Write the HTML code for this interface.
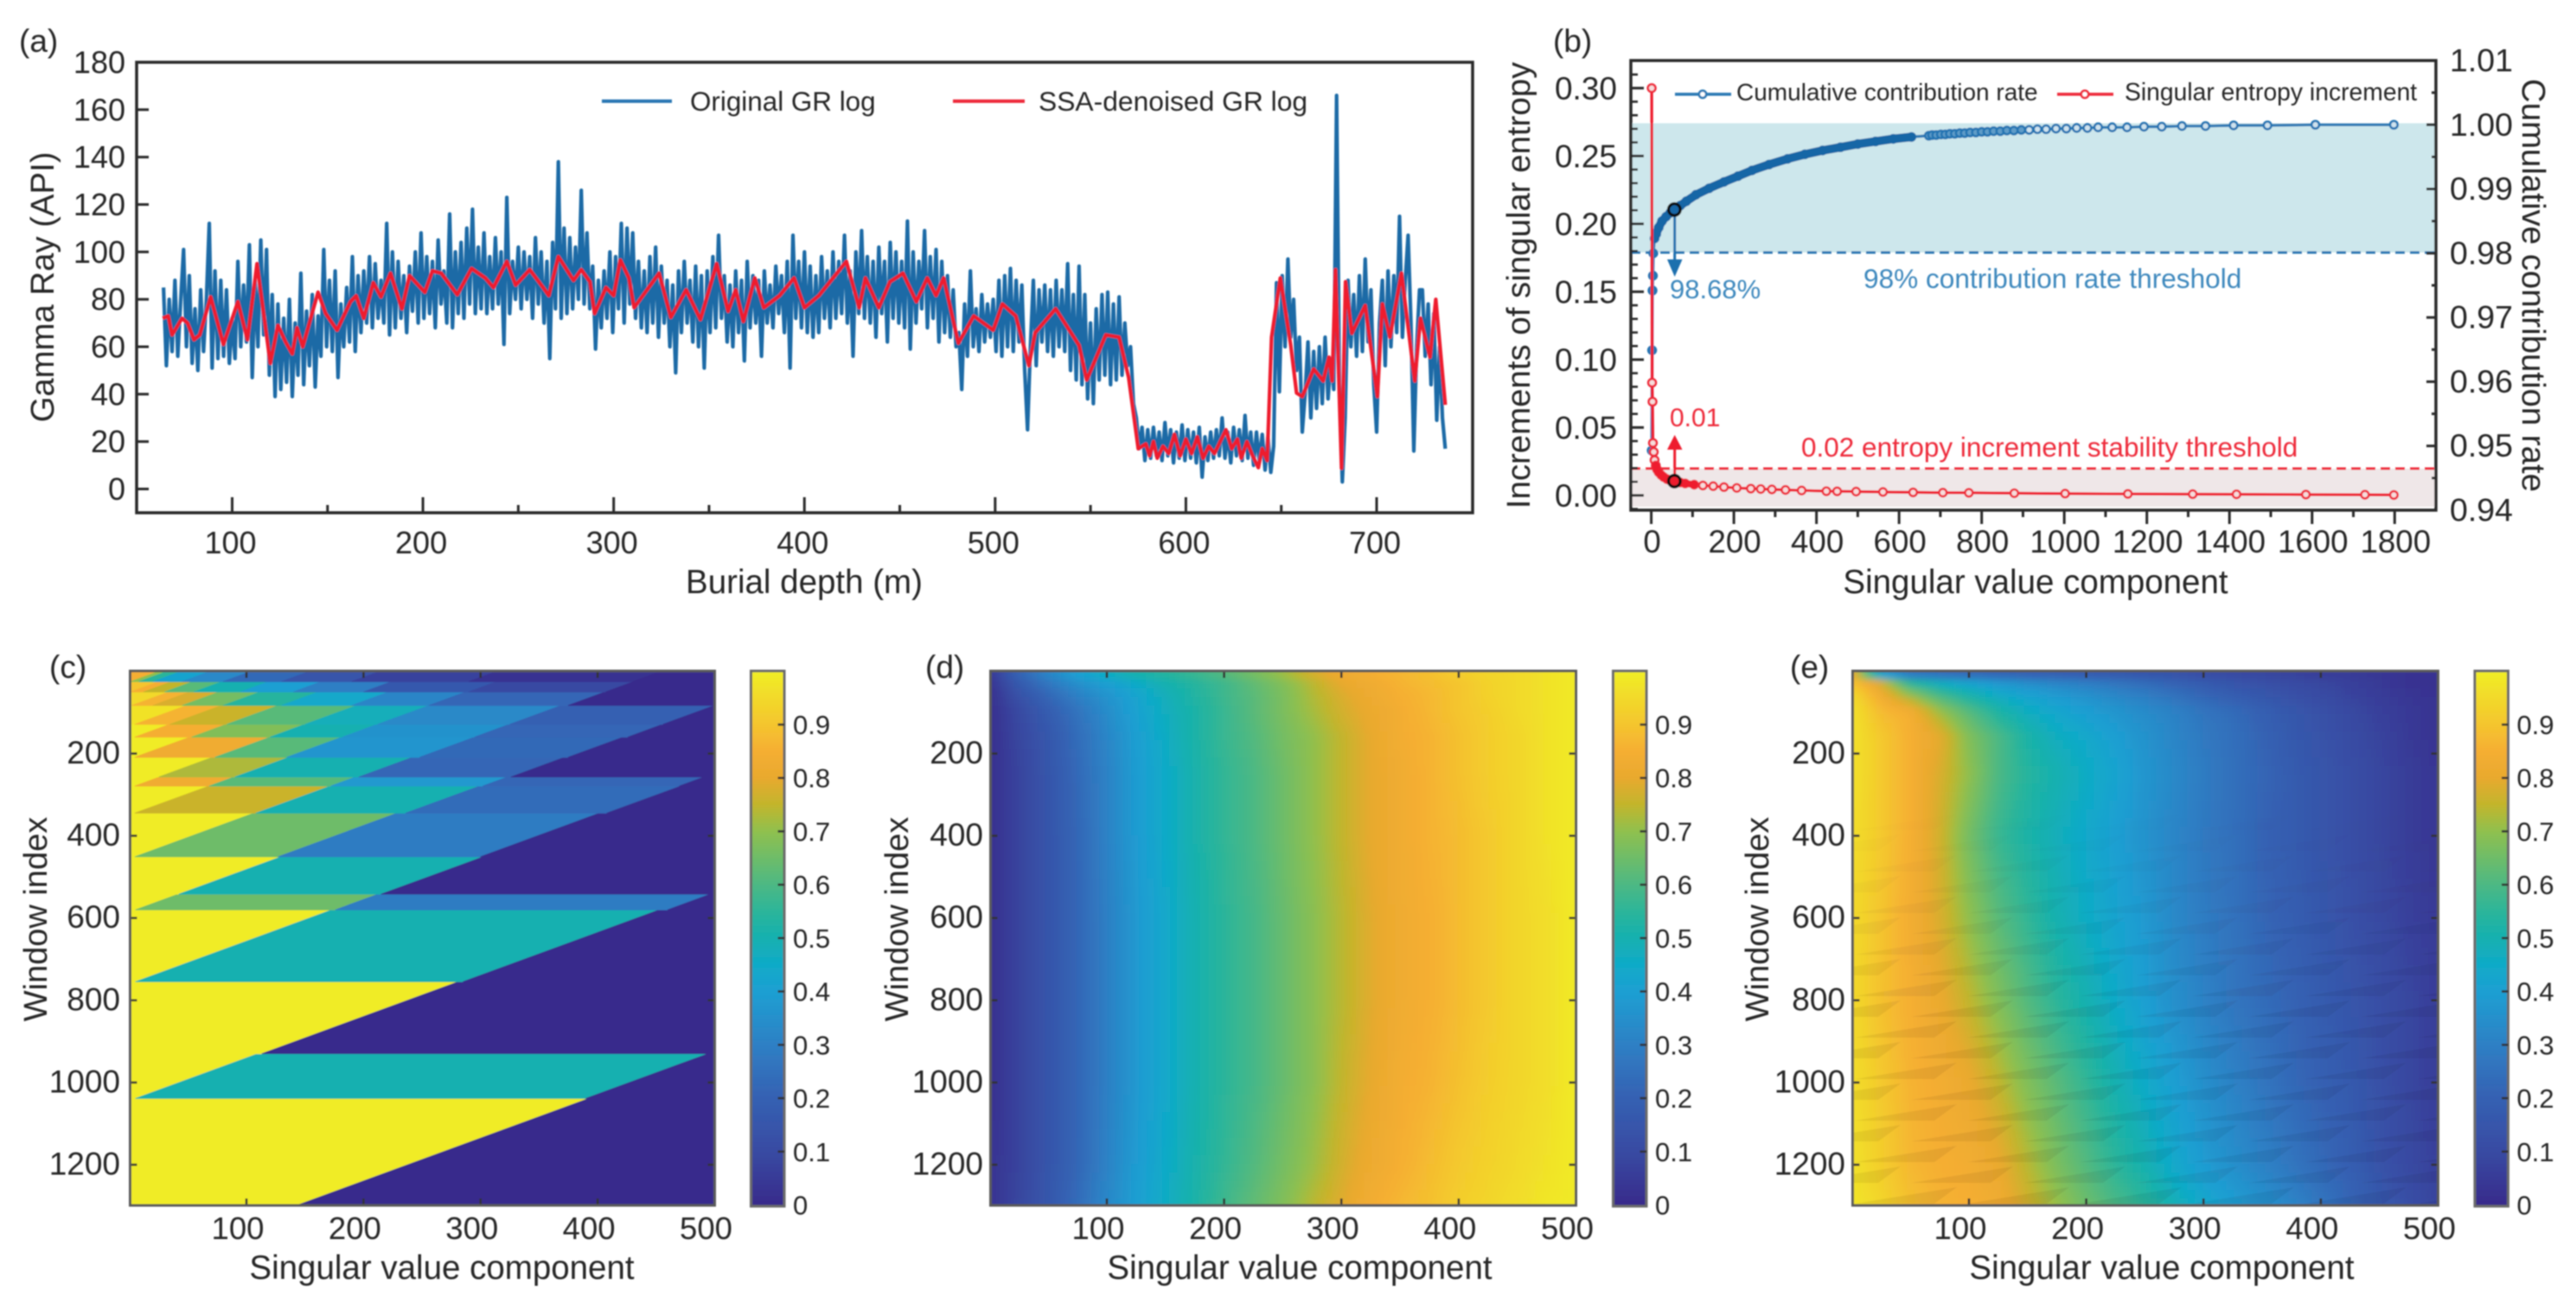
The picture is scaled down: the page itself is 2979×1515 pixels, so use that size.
<!DOCTYPE html>
<html lang="en">
<head>
<meta charset="utf-8">
<title>SSA denoising figure</title>
<style>
html,body{margin:0;padding:0;background:#fff}
svg{display:block}
text{font-family:"Liberation Sans",sans-serif;fill:#262626}
</style>
</head>
<body>
<svg id="fig" xmlns="http://www.w3.org/2000/svg" width="2979" height="1515" viewBox="0 0 2979 1515">
<defs>
<filter id="soft" filterUnits="userSpaceOnUse" x="0" y="0" width="2979" height="1515"><feGaussianBlur stdDeviation="0.9"/></filter>
<filter id="heatBlur" filterUnits="userSpaceOnUse" x="0" y="700" width="2979" height="815"><feGaussianBlur stdDeviation="5 4"/></filter>
<clipPath id="clipC"><rect x="150.5" y="776" width="676" height="618"/></clipPath>
<clipPath id="clipD"><rect x="1145.5" y="776" width="677" height="618"/></clipPath>
<clipPath id="clipE"><rect x="2142.5" y="776" width="677" height="618"/></clipPath>
<pattern id="saw" width="130" height="48" patternUnits="userSpaceOnUse">
<rect x="0" y="0" width="130" height="48" fill="#fff"/>
<polygon points="0,24 118,5 92,24" fill="#f0eef0"/>
<polygon points="65,48 183,29 157,48" fill="#f0eef0"/>
<polygon points="-65,48 53,29 27,48" fill="#f0eef0"/>
</pattern>
<linearGradient id="sawFade" gradientUnits="userSpaceOnUse" x1="0" y1="930" x2="0" y2="1170"><stop offset="0" stop-color="#fff" stop-opacity="0"/><stop offset="1" stop-color="#fff" stop-opacity="1"/></linearGradient>
<mask id="sawMask" maskUnits="userSpaceOnUse" x="2100" y="900" width="760" height="520"><rect x="2100" y="900" width="760" height="520" fill="url(#sawFade)"/></mask>
<linearGradient id="cbGrad" x1="0" y1="1" x2="0" y2="0"></linearGradient>
</defs>
<rect x="0" y="0" width="2979" height="1515" fill="#fff"/>
<g id="root" filter="url(#soft)">

<g id="panelA">
<text x="22" y="60" font-size="37">(a)</text>
<g id="aMarks"></g>
<g id="aAxes"></g>
<rect x="158" y="72" width="1545" height="521" fill="none" stroke="#2b2b2b" stroke-width="3.5"/>
<line x1="696" y1="117" x2="777" y2="117" stroke="#2a78b4" stroke-width="4"/>
<text x="798" y="128" font-size="31.4">Original GR log</text>
<line x1="1102" y1="117" x2="1185" y2="117" stroke="#ee2a3a" stroke-width="4"/>
<text x="1201" y="128" font-size="31.8">SSA-denoised GR log</text>
<text x="930" y="686" font-size="38.5" text-anchor="middle">Burial depth (m)</text>
<text transform="translate(62 332) rotate(-90)" font-size="38.3" text-anchor="middle">Gamma Ray (API)</text>
</g>

<g id="panelB">
<text x="1796" y="60" font-size="37">(b)</text>
<rect x="1886" y="142.5" width="931" height="149.5" fill="#cde7ec"/>
<rect x="1886" y="542" width="931" height="44" fill="#efe7e8"/>
<line x1="1886" y1="292" x2="2817" y2="292" stroke="#2a78b4" stroke-width="3" stroke-dasharray="11 6"/>
<line x1="1886" y1="542" x2="2817" y2="542" stroke="#ee2a3a" stroke-width="3" stroke-dasharray="11 6"/>
<g id="bMarks"></g>
<g><line x1="1936.7" y1="242" x2="1936.7" y2="302" stroke="#1f6fae" stroke-width="3"/><polygon points="1928,300 1945.5,300 1936.7,320" fill="#1f6fae"/></g>
<g><line x1="1936.7" y1="556" x2="1936.7" y2="518" stroke="#ee1c2e" stroke-width="3"/><polygon points="1928,520 1945.5,520 1936.7,503" fill="#ee1c2e"/></g>
<g id="bRings"></g>
<g id="bAxes"></g>
<rect x="1886" y="70" width="931" height="520" fill="none" stroke="#2b2b2b" stroke-width="3.5"/>
<line x1="1937" y1="109" x2="2002" y2="109" stroke="#2a78b4" stroke-width="3.5"/>
<circle cx="1969" cy="109" r="4.2" fill="#fff" stroke="#2a78b4" stroke-width="2.6"/>
<text x="2008" y="116" font-size="28">Cumulative contribution rate</text>
<line x1="2379" y1="109" x2="2444" y2="109" stroke="#ee2a3a" stroke-width="3.5"/>
<circle cx="2411" cy="109" r="4.2" fill="#fff" stroke="#ee2a3a" stroke-width="2.6"/>
<text x="2457" y="116" font-size="28.3">Singular entropy increment</text>
<text x="1931" y="345" font-size="31" style="fill:#3d88bd">98.68%</text>
<text x="2155" y="333" font-size="31.6" style="fill:#3d88bd">98% contribution rate threshold</text>
<text x="1931" y="493" font-size="30" style="fill:#ee2a3a">0.01</text>
<text x="2083" y="528" font-size="31.5" style="fill:#ee2a3a">0.02 entropy increment stability threshold</text>
<text x="2354" y="686" font-size="38.5" text-anchor="middle">Singular value component</text>
<text transform="translate(1769 330) rotate(-90)" font-size="38.4" text-anchor="middle">Increments of singular entropy</text>
<text transform="translate(2917 330) rotate(90)" font-size="38.4" text-anchor="middle">Cumulative contribution rate</text>
</g>

<g id="panelC">
<text x="57" y="784" font-size="37">(c)</text>
<g clip-path="url(#clipC)"><g id="cCells"></g></g>
<g id="cAxes"></g>
<text x="511" y="1479" font-size="38.5" text-anchor="middle">Singular value component</text>
<text transform="translate(54 1063) rotate(-90)" font-size="38" text-anchor="middle">Window index</text>
</g>

<g id="panelD">
<text x="1070" y="784" font-size="37">(d)</text>
<g clip-path="url(#clipD)"><g id="dCells" filter="url(#heatBlur)"></g></g>
<g id="dAxes"></g>
<text x="1503" y="1479" font-size="38.5" text-anchor="middle">Singular value component</text>
<text transform="translate(1050 1063) rotate(-90)" font-size="38" text-anchor="middle">Window index</text>
</g>

<g id="panelE">
<text x="2070" y="784" font-size="37">(e)</text>
<g clip-path="url(#clipE)"><g id="eCells" filter="url(#heatBlur)"></g>
<rect x="2142" y="930" width="678" height="464" fill="url(#saw)" mask="url(#sawMask)" style="mix-blend-mode:multiply"/></g>
<g id="eAxes"></g>
<text x="2500" y="1479" font-size="38.5" text-anchor="middle">Singular value component</text>
<text transform="translate(2045 1063) rotate(-90)" font-size="38" text-anchor="middle">Window index</text>
</g>
</g>
</svg>

<script>
// ---------- Panel (a) data ----------
const aBlueStartDepth = 64;
const aBlueDepthStep = 1.5;
const aBlueValues = [
85,52,80,58,88,56,79,101,60,90,53,76,50,84,58,80,112,51,92,55,
88,56,84,53,72,55,96,60,86,62,103,47,88,60,105,65,101,48,82,39,
78,42,72,45,80,39,70,48,91,44,75,52,82,43,73,56,101,60,88,58,
92,47,78,60,85,62,98,58,90,66,92,70,98,68,95,72,88,70,112,65,
100,68,96,72,90,66,94,75,100,70,108,72,98,74,96,68,105,78,92,70,
116,68,100,74,104,72,110,78,118,74,102,76,108,74,98,76,106,78,100,61,
123,74,96,80,102,76,100,80,98,72,106,78,100,70,96,55,104,76,138,72,
110,74,106,76,102,80,126,78,108,76,94,59,88,68,92,72,100,66,98,76,
112,70,110,78,108,72,96,68,92,66,98,70,102,64,94,70,88,60,86,49,
92,66,96,70,88,62,94,60,90,51,92,66,98,68,107,72,90,62,86,60,
92,66,88,54,96,68,90,70,88,56,92,70,86,68,94,74,90,66,96,51,
107,72,96,68,100,66,94,64,90,66,98,72,92,68,100,72,96,74,107,70,
92,56,100,74,109,72,98,70,96,64,102,74,96,62,104,72,100,70,96,68,
113,59,100,70,96,76,109,68,98,72,101,62,96,66,90,64,84,60,66,42,
78,56,92,60,76,58,82,62,78,64,80,58,88,56,90,60,93,58,88,62,
86,50,25,60,88,52,84,62,86,58,84,56,88,60,84,58,95,50,82,46,
94,44,82,38,70,36,76,46,82,48,83,44,78,46,81,48,70,52,60,36,
30,17,26,12,25,13,26,14,24,12,28,14,25,11,24,13,27,12,25,13,
24,11,26,5,22,12,24,13,25,14,30,13,24,11,26,14,25,12,31,13,
24,10,24,12,23,8,22,7,18,87,41,90,60,97,64,80,50,64,24,40,
62,30,58,34,60,36,64,38,55,42,166,44,3,30,88,60,82,56,90,58,
97,62,84,44,24,70,88,52,92,60,90,66,115,64,88,107,70,16,60,84,
84,56,78,44,74,29,60,30,17];
const aRedDepths = [63.6,66.5,68.5,73.7,76.6,80,83,88.7,95.4,103,108,113,120,124,128,131.5,134,137,145,149,155,162,165,169,174,178,183,189,193,201,205,209.6,218,225.5,232.7,237,244,248.6,256,263,266,271,279,283,287.6,290,296,300,303.5,308,310.7,323.8,330,338,345.5,354,360,364,368,374,378.7,387,394.6,400,407.6,422,428.7,432,439,444.8,451.7,458.7,464.4,469,473,480.7,488.8,499,503.8,510.8,517.7,521,531.7,544,548,558,565,570,575,579,581,583,585,588,591,594,597,600,603,606,609,612,615,618,621,624,627,629,632,635,638,640,642.6,644.9,649.5,655,658,661,667,672,675,676.7,678.4,681.6,683.7,687,694,700.4,703,707,713,720,723,728,731,736];
const aRedValues = [72,73,65,72,70,63,65,81,61,79,63,95,53,69,62,57,68,60,83,74,67,79,81.5,72,87,81,91,76,90,83,92,91,82,93,89,85,96,86,92.5,85,81.6,98,88,92.5,87.4,74,85,81.6,96.6,89,76.5,91,72.4,84,71.5,95,75,84,70.7,89,76.5,81.6,89,76.5,81.6,96,76.5,89,76.5,87.4,91,79,89,81.6,89,61.5,73,67,78,73,52,66,76,60.6,46,65,64,47,17,19,14,20,13,18,15,23,14,21,15,22,13,18,15,20,25,17,21,13,20,14,9,17,12,64,89,60.6,40.5,39,50.6,45.6,55.6,45.6,92.5,8.7,87.4,65.7,77.4,39,78,64,91,45.6,72,55.6,80,35.5];
const aYTicks = [0,20,40,60,80,100,120,140,160,180];
const aXMajorTicks = [100,200,300,400,500,600,700];
const aXMinorTicks = [150,250,350,450,550,650];

// ---------- Panel (b) data ----------
const bContributionK = [1,2,3,4,5,8,12,18,26,36,46,56,70,85,108,140,176,210,244,285,330,372,415,458,500,543,586,630,672,680,690,701,712,723,735,747,759,772,786,800,814,829,845,861,878,896,915,935,956,980,1005,1030,1056,1082,1116,1152,1193,1236,1285,1342,1410,1492,1608,1798];
const bContributionRate = [0.9493,0.9649,0.9742,0.9765,0.98,0.9823,0.983,0.984,0.985,0.9857,0.9863,0.9868,0.9874,0.9881,0.9891,0.9901,0.9911,0.992,0.9929,0.9938,0.9947,0.9954,0.996,0.9965,0.997,0.9974,0.9978,0.9981,0.9983,0.9984,0.9984,0.9985,0.9985,0.9986,0.9986,0.9987,0.9987,0.9988,0.9988,0.9989,0.9989,0.999,0.999,0.9991,0.9991,0.9992,0.9992,0.9993,0.9993,0.9994,0.9994,0.9995,0.9995,0.9996,0.9996,0.9996,0.9997,0.9997,0.9998,0.9998,0.9999,0.9999,1,1];
const bEntropyK = [1,2,3,4,6,8,11,14,18,24,30,38,45,56,70,82,104,125,150,176,207,241,265,292,325,364,424,450,496,561,634,706,769,879,1002,1154,1311,1417,1585,1728,1798];
const bEntropyIncrement = [0.3,0.083,0.069,0.0386,0.032,0.026,0.022,0.019,0.017,0.015,0.0135,0.012,0.0112,0.0105,0.0095,0.0088,0.0079,0.0073,0.0068,0.0061,0.0055,0.005,0.0047,0.0044,0.004,0.0036,0.0031,0.003,0.0028,0.0025,0.0022,0.002,0.0019,0.0016,0.0013,0.0011,0.0009,0.0008,0.0006,0.0005,0.0003];
const bSelectedK = [56];
const bSelectedRate = [0.9868];
const bSelectedEntropy = [0.0105];
const bLeftMajorTicks = ["0.00","0.05","0.10","0.15","0.20","0.25","0.30"];
const bLeftMinorTicks = [-0.01,0.01,0.02,0.03,0.04,0.06,0.07,0.08,0.09,0.11,0.12,0.13,0.14,0.16,0.17,0.18,0.19,0.21,0.22,0.23,0.24,0.26,0.27,0.28,0.29,0.31];
const bRightMajorTicks = ["0.94","0.95","0.96","0.97","0.98","0.99","1.00","1.01"];
const bRightMinorTicks = [0.945,0.955,0.965,0.975,0.985,0.995,1.005];
const bXMajorTicks = [0,200,400,600,800,1000,1200,1400,1600,1800];
const bXMinorTicks = [100,300,500,700,900,1100,1300,1500,1700];

// ---------- Heatmap data ----------
const heatXTicks = [100,200,300,400,500];
const heatYTicks = [200,400,600,800,1000,1200];
const colorbarTicks = ["0","0.1","0.2","0.3","0.4","0.5","0.6","0.7","0.8","0.9"];
const colormapPositions = [0,0.1,0.2,0.3,0.4,0.45,0.5,0.55,0.6,0.7,0.75,0.8,0.85,0.9,1];
const colormapColors = ["#38298a","#384aa2","#3560b2","#2e7fc4","#1d9fd2","#10aac8","#14b0b0","#2bb59a","#4cb884","#8fc04e","#c2b52c","#e8a92e","#f5ae32","#f4c52e","#f0ee26"];

// Panel (c): piecewise-constant bands of the stepped spectrum
const cSlope = 0.96;
const cBandTop = [1039,930,755,580,542,451,345,279,257,209,160,129,83,50,25,1];
const cBandBottom = [1300,1039,930,755,580,542,451,345,279,257,209,160,129,83,50,25];
const cBandBreaks = [
[142],[5,390],[113],[5,285],[5,176,460],[42,215],[4.5,127,300],[4.5,108,236,408],
[4.5,68,172,302,470],[25,90,196,326],[4.5,73,134.5,248,375],[4.5,53,120,182,295,426],
[4.5,34.5,83,150,212,325,456],[2,20,45,80,130,190,256,375],[1,12,30,55,95,140,200,290,407],
[1,8,20,45,80,130,190,290,430]];
const cBandValues = [
[0.995,0.01],[0.995,0.5,0.01],[0.995,0.01],[0.995,0.5,0.01],[0.995,0.65,0.29,0.01],[0.995,0.5,0.01],
[0.995,0.65,0.29,0.01],[0.995,0.76,0.5,0.24,0.01],[0.995,0.83,0.62,0.38,0.22,0.01],[0.995,0.73,0.5,0.22,0.01],
[0.995,0.83,0.62,0.37,0.23,0.01],[0.995,0.85,0.68,0.5,0.36,0.22,0.01],[0.97,0.86,0.76,0.62,0.48,0.33,0.2,0.01],
[0.95,0.86,0.78,0.66,0.54,0.44,0.32,0.22,0.01],[0.9,0.85,0.75,0.62,0.5,0.4,0.3,0.17,0.1,0.01],
[0.85,0.7,0.55,0.42,0.33,0.23,0.15,0.08,0.03,0.01]];

// Panels (d) and (e): sampled matrices, rows = window index, columns = component
const heatColumns = [1,25,50,75,100,125,150,175,200,225,250,275,300,325,350,375,400,425,450,475,500];
const heatRows = [1,30,60,100,160,250,400,600,800,1000,1200,1300];
const dMatrix = [
[.05,.22,.33,.42,.48,.52,.55,.58,.62,.67,.72,.78,.83,.85,.87,.89,.92,.94,.95,.97,.99],
[.03,.17,.27,.35,.40,.45,.50,.54,.58,.63,.68,.74,.80,.83,.86,.88,.90,.93,.95,.97,.99],
[.02,.13,.22,.30,.36,.42,.48,.53,.58,.62,.67,.73,.78,.82,.85,.87,.90,.93,.95,.97,.99],
[.02,.10,.18,.26,.34,.41,.47,.52,.57,.62,.67,.72,.77,.81,.84,.87,.90,.92,.95,.97,.99],
[.02,.09,.16,.24,.32,.40,.46,.52,.57,.61,.66,.70,.75,.80,.84,.86,.89,.92,.94,.97,.99],
[.02,.08,.15,.23,.31,.39,.45,.51,.56,.60,.65,.70,.75,.80,.83,.86,.89,.92,.94,.97,.99],
[.02,.08,.15,.22,.31,.39,.45,.51,.56,.60,.65,.70,.75,.80,.83,.86,.88,.91,.94,.97,.99],
[.02,.08,.15,.22,.30,.38,.44,.50,.55,.59,.64,.69,.74,.79,.83,.85,.88,.91,.94,.96,.99],
[.02,.08,.15,.22,.30,.38,.44,.50,.55,.59,.64,.69,.74,.79,.83,.85,.88,.91,.94,.96,.99],
[.02,.08,.15,.22,.30,.38,.44,.50,.55,.59,.64,.69,.75,.80,.84,.86,.89,.92,.94,.96,.99],
[.03,.08,.15,.22,.31,.39,.45,.51,.56,.61,.66,.71,.77,.82,.85,.88,.91,.93,.95,.97,.99],
[.03,.09,.16,.24,.33,.40,.46,.52,.58,.63,.68,.74,.79,.84,.87,.89,.92,.94,.96,.98,.99]];
const eMatrix = [
[.80,.30,.20,.19,.18,.17,.16,.16,.15,.14,.13,.12,.10,.09,.08,.07,.05,.05,.04,.03,.03],
[.90,.78,.55,.47,.42,.38,.35,.32,.30,.27,.24,.21,.18,.15,.13,.11,.09,.07,.05,.03,.02],
[.95,.84,.72,.60,.52,.46,.42,.39,.36,.33,.30,.26,.22,.19,.16,.13,.11,.08,.06,.04,.03],
[.97,.88,.85,.72,.62,.53,.47,.43,.40,.37,.34,.31,.27,.24,.20,.16,.13,.10,.07,.05,.03],
[.97,.91,.85,.80,.68,.60,.52,.47,.44,.40,.36,.32,.28,.25,.21,.17,.14,.11,.08,.05,.03],
[.97,.91,.85,.78,.70,.60,.54,.50,.46,.42,.37,.33,.29,.25,.22,.18,.15,.12,.09,.06,.04],
[.96,.91,.85,.77,.66,.57,.52,.48,.44,.40,.36,.32,.28,.25,.21,.18,.15,.12,.09,.06,.04],
[.95,.90,.84,.78,.70,.62,.56,.50,.46,.42,.38,.33,.29,.26,.22,.19,.16,.13,.10,.07,.05],
[.95,.89,.85,.81,.75,.68,.61,.55,.50,.45,.40,.35,.31,.27,.24,.21,.18,.15,.12,.09,.06],
[.96,.91,.86,.84,.81,.75,.68,.62,.56,.50,.45,.40,.35,.31,.27,.23,.20,.17,.13,.09,.06],
[.97,.92,.87,.85,.84,.81,.74,.67,.61,.55,.50,.44,.39,.35,.31,.27,.23,.19,.14,.10,.07],
[.98,.94,.89,.86,.85,.83,.77,.71,.65,.60,.55,.49,.44,.40,.36,.32,.27,.22,.17,.12,.08]];

// ---------- Helpers ----------
const NS = "http://www.w3.org/2000/svg";
function make(parent, tag, attrs, text) {
  const el = document.createElementNS(NS, tag);
  for (const k in attrs) el.setAttribute(k, attrs[k]);
  if (text !== undefined) el.textContent = text;
  parent.appendChild(el);
  return el;
}
function linear(d0, d1, r0, r1) {
  return function (v) { return r0 + (v - d0) * (r1 - r0) / (d1 - d0); };
}
function hexToRgb(h) {
  return [parseInt(h.slice(1,3),16), parseInt(h.slice(3,5),16), parseInt(h.slice(5,7),16)];
}
function colormap(v) {
  v = Math.max(0, Math.min(1, v));
  let i = 0;
  while (i < colormapPositions.length - 2 && v > colormapPositions[i + 1]) i++;
  const t = (v - colormapPositions[i]) / (colormapPositions[i + 1] - colormapPositions[i]);
  const a = hexToRgb(colormapColors[i]);
  const b = hexToRgb(colormapColors[i + 1]);
  return "rgb(" + [0,1,2].map(function (j) { return Math.round(a[j] + (b[j] - a[j]) * t); }).join(",") + ")";
}
function tickLine(parent, name, x1, y1, x2, y2, color, width) {
  const el = make(parent, "line", {x1: x1, y1: y1, x2: x2, y2: y2, stroke: color, "stroke-width": width});
  
  
  return el;
}
function label(parent, name, x, y, size, anchor, str) {
  const el = make(parent, "text", {x: x, y: y, "font-size": size, "text-anchor": anchor}, str);
  
  
  return el;
}
function polyPoints(xs, ys, fx, fy) {
  return xs.map(function (x, i) { return fx(x).toFixed(1) + "," + fy(ys[i]).toFixed(1); }).join(" ");
}

// ---------- Panel (a) ----------
(function () {
  const xA = linear(100, 700, 268.5, 1592);
  const yA = linear(0, 180, 565.5, 72);
  const marks = document.getElementById("aMarks");
  const axes = document.getElementById("aAxes");
  const depths = aBlueValues.map(function (_, i) { return aBlueStartDepth + i * aBlueDepthStep; });
  const blue = make(marks, "polyline", {points: polyPoints(depths, aBlueValues, xA, yA), fill: "none", stroke: "#1a6aa6", "stroke-width": 4.2, "stroke-linejoin": "round"});
  
  
  const red = make(marks, "polyline", {points: polyPoints(aRedDepths, aRedValues, xA, yA), fill: "none", stroke: "#ee1c2e", "stroke-width": 4.2, "stroke-linejoin": "round"});
  
  
  aYTicks.forEach(function (v) {
    if (v < 180) tickLine(axes, "y-tick-a", 158, yA(v), 172, yA(v), "#2b2b2b", 3);
    label(axes, "y-tick-label-a", 145, yA(v) + 12.5, 36, "end", String(v));
  });
  aXMajorTicks.forEach(function (v) {
    tickLine(axes, "x-tick-a", xA(v), 593, xA(v), 575, "#2b2b2b", 3);
    label(axes, "x-tick-label-a", xA(v) - 2, 640, 36, "middle", String(v));
  });
  aXMinorTicks.forEach(function (v) {
    tickLine(axes, "x-minor-tick-a", xA(v), 593, xA(v), 584, "#2b2b2b", 3);
  });
})();

// ---------- Panel (b) ----------
(function () {
  const xB = linear(0, 1800, 1909.6, 2769.3);
  const yL = linear(0, 0.3, 572.9, 101.9);
  const yR = linear(0.94, 1.01, 590, 70);
  const marks = document.getElementById("bMarks");
  const rings = document.getElementById("bRings");
  const axes = document.getElementById("bAxes");

  const blueLine = make(marks, "polyline", {points: polyPoints(bContributionK, bContributionRate, xB, yR), fill: "none", stroke: "#2a78b4", "stroke-width": 3.2});
  
  
  bContributionK.forEach(function (k, i) {
    const c = make(marks, "circle", {cx: xB(k), cy: yR(bContributionRate[i]), r: 4.4, fill: k < 8 ? "#2474b2" : (k < 900 ? "#5f9cc8" : "#cfe3ee"), stroke: "#2474b2", "stroke-width": 2.6});
    
    
  });
  const blueBandK = bContributionK.filter(function (k) { return k >= 8 && k <= 630; });
  const blueBandV = bContributionRate.filter(function (_, i) { return bContributionK[i] >= 8 && bContributionK[i] <= 630; });
  const band = make(marks, "polyline", {points: polyPoints(blueBandK, blueBandV, xB, yR), fill: "none", stroke: "#1766a6", "stroke-width": 10, "stroke-linecap": "round"});
  
  
  const redLine = make(marks, "polyline", {points: polyPoints(bEntropyK, bEntropyIncrement, xB, yL), fill: "none", stroke: "#ee1c2e", "stroke-width": 3.2});
  
  
  bEntropyK.forEach(function (k, i) {
    const c = make(marks, "circle", {cx: xB(k), cy: yL(bEntropyIncrement[i]), r: 4.4, fill: "#f6dcdc", stroke: "#ee2a3a", "stroke-width": 2.6});
    
    
  });
  const redBandK = bEntropyK.filter(function (k) { return k >= 11 && k <= 110; });
  const redBandV = bEntropyIncrement.filter(function (_, i) { return bEntropyK[i] >= 11 && bEntropyK[i] <= 110; });
  const redBand = make(marks, "polyline", {points: polyPoints(redBandK, redBandV, xB, yL), fill: "none", stroke: "#ee1c2e", "stroke-width": 8, "stroke-linecap": "round"});
  
  
  bSelectedK.forEach(function (k, i) {
    const r1 = make(rings, "circle", {cx: xB(k), cy: yR(bSelectedRate[i]), r: 6.8, fill: "#1766a6", stroke: "#111", "stroke-width": 3.4});
    
    
    const r2 = make(rings, "circle", {cx: xB(k), cy: yL(bSelectedEntropy[i]), r: 6.8, fill: "#ee1c2e", stroke: "#111", "stroke-width": 3.4});
    
    
  });

  bLeftMajorTicks.forEach(function (s) {
    const v = parseFloat(s);
    tickLine(axes, "left-tick-b", 1886, yL(v), 1901, yL(v), "#2b2b2b", 3);
    label(axes, "left-tick-label-b", 1870, yL(v) + 13, 37, "end", s);
  });
  bLeftMinorTicks.forEach(function (v) {
    tickLine(axes, "left-minor-tick-b", 1886, yL(v), 1894, yL(v), "#2b2b2b", 2.6);
  });
  bRightMajorTicks.forEach(function (s) {
    const v = parseFloat(s);
    if (v > 0.94 && v < 1.01) tickLine(axes, "right-tick-b", 2817, yR(v), 2806, yR(v), "#2b2b2b", 3);
    label(axes, "right-tick-label-b", 2833, yR(v) + 12.5, 37.5, "start", s);
  });
  bRightMinorTicks.forEach(function (v) {
    tickLine(axes, "right-minor-tick-b", 2817, yR(v), 2812, yR(v), "#2b2b2b", 3);
  });
  bXMajorTicks.forEach(function (v) {
    tickLine(axes, "x-tick-b", xB(v), 590, xB(v), 606, "#2b2b2b", 3);
    label(axes, "x-tick-label-b", xB(v) + 1, 639, 36.7, "middle", String(v));
  });
  bXMinorTicks.forEach(function (v) {
    tickLine(axes, "x-minor-tick-b", xB(v), 590, xB(v), 598, "#2b2b2b", 3);
  });
})();

// ---------- Colormap gradient ----------
colormapPositions.forEach(function (p, i) {
  make(document.getElementById("cbGrad"), "stop", {offset: p, "stop-color": colormapColors[i]});
});

// ---------- Heatmap axes ----------
function drawHeatAxes(id, panel, left, right, cbLeft, labelRight) {
  const g = document.getElementById(id);
  const xH = linear(100, 500, left + 134.5, right);
  const yH = linear(200, 1200, 871.5, 1347);
  const cbY = linear(0, 0.9, 1393.5, 838);
  heatXTicks.forEach(function (v) {
    if (v < 500) {
      tickLine(g, "x-tick-" + panel, xH(v), 1394, xH(v), 1386, "#333", 2.6);
      tickLine(g, "x-top-tick-" + panel, xH(v), 776, xH(v), 784, "#333", 2.6);
    }
    label(g, "x-tick-label-" + panel, xH(v) - 10, 1433, 36.5, "middle", String(v));
  });
  heatYTicks.forEach(function (v) {
    tickLine(g, "y-tick-" + panel, left, yH(v), left + 8, yH(v), "#333", 2.6);
    tickLine(g, "y-right-tick-" + panel, right, yH(v), right - 8, yH(v), "#333", 2.6);
    label(g, "y-tick-label-" + panel, labelRight, yH(v) + 11.5, 37, "end", String(v));
  });
  const frame = make(g, "rect", {x: left, y: 776, width: right - left, height: 618, fill: "none", stroke: "#5a5a5a", "stroke-width": 3});
  
  
  const bar = make(g, "rect", {x: cbLeft, y: 776, width: 38.5, height: 619, fill: "url(#cbGrad)", stroke: "#6a6a6a", "stroke-width": 3});
  
  
  colorbarTicks.forEach(function (s) {
    const v = parseFloat(s);
    const y = cbY(v);
    if (v > 0) tickLine(g, "colorbar-tick-" + panel, cbLeft + 38.5, y, cbLeft + 31, y, "#333", 2.6);
    label(g, "colorbar-label-" + panel, cbLeft + 48.5, y + 11, 31, "start", s);
  });
}
drawHeatAxes("cAxes", "c", 150.5, 826.5, 868.5, 139);
drawHeatAxes("dAxes", "d", 1145.5, 1822.5, 1865.5, 1137);
drawHeatAxes("eAxes", "e", 2142.5, 2819.5, 2862, 2134);

// ---------- Panel (c) regions ----------
(function () {
  const g = document.getElementById("cCells");
  const xC = linear(100, 500, 285, 826);
  const yC = linear(200, 1200, 871.5, 1347);
  cBandTop.forEach(function (top, b) {
    const bottom = cBandBottom[b];
    const shift = cSlope * (bottom - top);
    const breaks = cBandBreaks[b];
    cBandValues[b].forEach(function (val, j) {
      const l = j === 0 ? -400 : breaks[j - 1];
      const r = j === breaks.length ? 1000 : breaks[j];
      const pts = [[l, bottom], [l + shift, top], [r + shift, top], [r, bottom]]
        .map(function (p) { return xC(p[0]).toFixed(1) + "," + yC(p[1]).toFixed(1); }).join(" ");
      const poly = make(g, "polygon", {points: pts, fill: colormap(val), stroke: colormap(val), "stroke-width": 0.8});
      
      
    });
  });
})();

// ---------- Panels (d), (e) cells: the matrix is sampled bilinearly onto small cells ----------
function segment(axis, v) {
  let i = 0;
  while (i < axis.length - 2 && v > axis[i + 1]) i++;
  const t = Math.max(0, Math.min(1, (v - axis[i]) / (axis[i + 1] - axis[i])));
  return [i, t];
}
function sampleMatrix(matrix, comp, win) {
  const c = segment(heatColumns, comp);
  const r = segment(heatRows, win);
  const top = matrix[r[0]][c[0]] * (1 - c[1]) + matrix[r[0]][c[0] + 1] * c[1];
  const bot = matrix[r[0] + 1][c[0]] * (1 - c[1]) + matrix[r[0] + 1][c[0] + 1] * c[1];
  return top * (1 - r[1]) + bot * r[1];
}
function drawMatrix(id, panel, matrix, left, right) {
  const g = document.getElementById(id);
  const pxToComp = linear(left + 134.5, right, 100, 500);
  const pxToWin = linear(871.5, 1347, 200, 1200);
  const stepX = 9;
  const stepY = 10;
  for (let py = 746; py < 1424; py += stepY) {
    for (let px = left - 27; px < right + 27; px += stepX) {
      const val = sampleMatrix(matrix, pxToComp(px + stepX / 2), pxToWin(py + stepY / 2));
      const cell = make(g, "rect", {x: px, y: py, width: stepX + 0.5, height: stepY + 0.5, fill: colormap(val)});
      
      
    }
  }
}
drawMatrix("dCells", "d", dMatrix, 1145.5, 1822.5);
drawMatrix("eCells", "e", eMatrix, 2142.5, 2819.5);
</script>
</body>
</html>
